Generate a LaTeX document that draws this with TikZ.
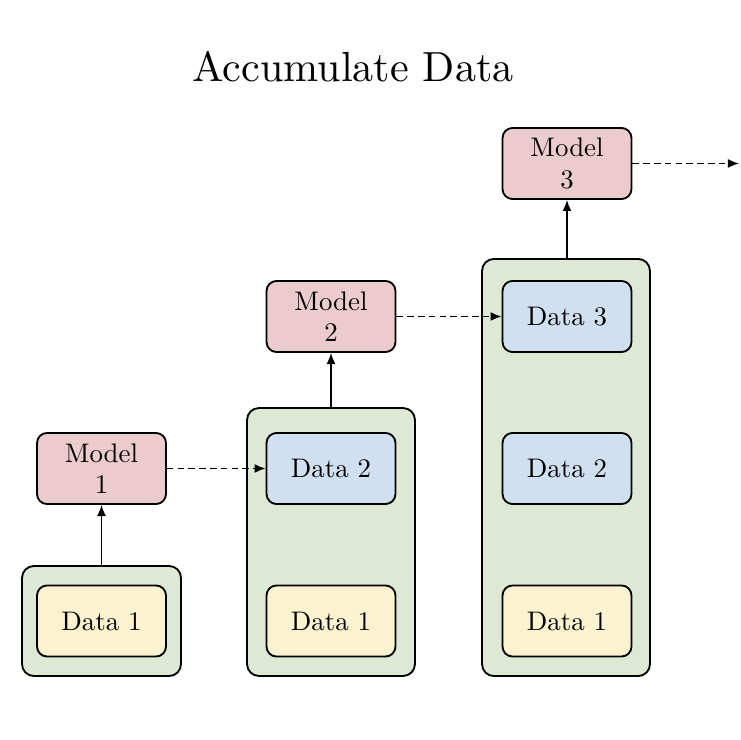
\documentclass[tikz,border=0pt]{standalone}
\usepackage{fontspec}
\usetikzlibrary{arrows.meta}
\newfontfamily\titlefont{lmroman10-regular.otf}
\definecolor{modelfill}{HTML}{ECCBCE}
\definecolor{bluefill}{HTML}{D1E0F0}
\definecolor{yellowfill}{HTML}{FBF2D0}
\definecolor{greenfill}{HTML}{DDE8D5}
\tikzset{
  box/.style={draw=black, line width=0.7pt, rounded corners=3.8pt, inner sep=0pt,
    minimum width=49pt, minimum height=27pt, align=center, font=\titlefont\fontsize{10.2}{12}\selectfont},
  modelbox/.style={box, fill=modelfill},
  newdata/.style={box, fill=bluefill},
  olddata/.style={box, fill=yellowfill},
  container/.style={draw=black, line width=0.7pt, rounded corners=4.5pt, fill=greenfill, inner sep=0pt},
  trainarrow/.style={line width=0.6pt, -{Latex[length=4.2pt,width=3.4pt]}},
  passarrow/.style={line width=0.6pt, dash pattern=on 2.5pt off 1.6pt, -{Latex[length=4.2pt,width=3.4pt]}}
}
\begin{document}
\begin{tikzpicture}[x=0.38pt,y=-0.38pt]
\useasboundingbox (0,0) rectangle (740,740);
\node (title) at (353,67) {\titlefont\fontsize{16}{19}\selectfont Accumulate Data};
% containers
\node[container, minimum width=60.4pt, minimum height=41.8pt] (c1) at (101.5,621) {};
\node[container, minimum width=63.8pt, minimum height=101.8pt] (c2) at (331,542) {};
\node[container, minimum width=63.8pt, minimum height=158.5pt] (c3) at (566,467.5) {};
% column 1
\node[modelbox] (m1) at (101.5,468.5) {Model\\1};
\node[olddata] (d11) at (101.5,621) {Data 1};
% column 2
\node[modelbox] (m2) at (331,316.5) {Model\\2};
\node[newdata] (d22) at (331,468.5) {Data 2};
\node[olddata] (d21) at (331,621) {Data 1};
% column 3
\node[modelbox] (m3) at (567,163.5) {Model\\3};
\node[newdata] (d33) at (567,316.5) {Data 3};
\node[newdata] (d32) at (567,468.5) {Data 2};
\node[olddata] (d31) at (567,621) {Data 1};
\coordinate (next) at (739,163.5);
% arrows
\draw[trainarrow] (c1.north) -- (m1.south);
\draw[trainarrow] (c2.north) -- (m2.south);
\draw[trainarrow] (m3.south |- c3.north) -- (m3.south);
\draw[passarrow] (m1.east) -- (d22.west);
\draw[passarrow] (m2.east) -- (d33.west);
\draw[passarrow] (m3.east) -- (next);
\end{tikzpicture}
\end{document}
